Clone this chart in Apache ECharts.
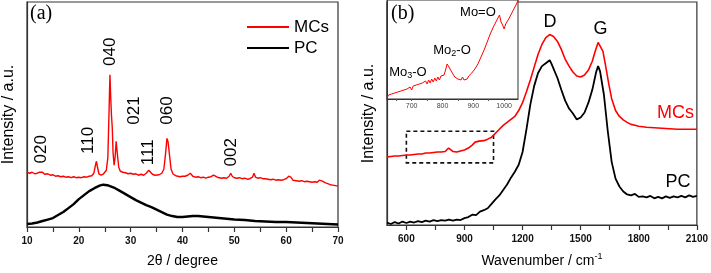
<!DOCTYPE html>
<html><head><meta charset="utf-8">
<script src="https://cdn.jsdelivr.net/npm/echarts@6/dist/echarts.min.js"></script>
<style>html,body{margin:0;padding:0;background:#fff}#c{width:711px;height:273px}</style>
</head><body><div id="c"></div>
<script>
// ---------- Panel (a): XRD ----------
const xrdMCs = [[10,55],[10.5,54],[11,55],[11.5,53.5],[12,54],[12.4,55],[12.7,57],[13,55],[13.4,53],[14,53.5],[14.5,52],[15,52.5],[15.5,51],[16,51.5],[16.5,50.5],[17,51],[17.5,50],[18,50.5],[18.5,49.5],[19,50.5],[19.5,49.5],[20,50],[20.5,49.5],[21,50.5],[21.5,50],[22,51],[22.5,51.5],[22.9,54],[23.2,62],[23.4,66],[23.6,60],[23.9,53],[24.3,52],[24.7,53],[25.0,54],[25.3,57],[25.6,70],[25.8,110],[26.0,153],[26.15,130],[26.3,112],[26.45,100],[26.6,75],[26.8,62],[27.0,70],[27.2,86],[27.35,84],[27.5,70],[27.7,60],[28,56],[28.5,55],[29,54.5],[29.5,53.5],[30,54],[30.5,53],[31,53.5],[31.5,52],[32,53],[32.5,52],[33,54],[33.5,57],[33.8,56],[34.2,53],[34.7,52],[35,53],[35.5,52.5],[36,54],[36.4,58],[36.7,72],[37.0,89],[37.2,86],[37.5,72],[37.8,58],[38.2,53],[38.7,51.5],[39,51],[39.5,50.5],[40,51],[40.5,51],[41,52],[41.5,54],[42,51],[42.5,50],[43,50.5],[43.5,49.5],[44,50],[44.5,49],[45,50],[45.5,50.5],[46,52],[46.3,52.5],[46.7,50],[47,49.5],[47.5,49],[48,49.5],[48.5,49],[49,51],[49.3,54],[49.6,51],[50,49.5],[50.5,49],[51,49.5],[51.5,48.5],[52,49],[52.5,48],[53,48.5],[53.5,50],[53.8,54],[54.1,50],[54.5,49],[55,49.5],[55.5,48.5],[56,48.5],[56.5,48],[57,47.5],[57.5,48],[58,47],[58.5,47.5],[59,47],[59.5,47.5],[60,48.5],[60.5,51],[60.9,50],[61.3,47],[62,46.5],[62.5,46],[63,46.5],[63.5,45.5],[64,46],[64.5,45.5],[65,45],[65.5,45.5],[66,45],[66.4,47],[66.7,49],[67,46],[67.5,44.5],[68,43.5],[68.5,42.5],[69,42],[69.5,41.5],[70,41]];
const xrdPC = [[10,3],[11,3.5],[12,4.5],[13,6],[14,7.5],[15,9],[16,12],[17,15],[18,19],[19,23],[20,28],[21,32],[22,36],[23,39],[24,41.5],[24.7,42.5],[25.5,42],[26,41],[27,39],[28,36],[29,33],[30,30],[31,27],[32,24.5],[33,22],[34,20],[35,17.5],[36,15],[37,12.5],[38,11],[39,10],[40,10],[41,10.5],[42,11],[43,11],[44,10.5],[45,10],[46,9.5],[47,9],[48,8.5],[50,7.5],[52,7],[54,6],[56,5.5],[58,5],[60,5],[62,4.5],[64,4],[66,3.5],[68,3],[70,2.5]];
const xrdPeakLabels = [{name:'020',value:[12.8,78]},{name:'110',value:[21.8,87]},{name:'040',value:[26.0,176]},{name:'021',value:[30.7,117]},{name:'111',value:[33.4,75]},{name:'060',value:[37.0,117]},{name:'002',value:[49.5,75]}];
const xrdTicks = [10,15,20,25,30,35,40,45,50,55,60,65,70];
const xrdTickLabels = [10,20,30,40,50,60,70];

// ---------- Panel (b): Raman ----------
const ramanMCs = [[500,69],[520,69.5],[540,70],[560,70],[580,70.5],[600,71],[620,71],[640,71.5],[660,72],[680,72],[700,73],[720,73],[740,73.5],[760,74],[780,74],[800,74.5],[810,76],[818,78],[826,76.5],[840,74.5],[860,74],[880,75],[900,76],[920,78],[940,81],[955,84],[965,85.5],[975,85],[985,86],[1000,85.5],[1020,87],[1040,89],[1060,93],[1080,97],[1100,101],[1120,104],[1140,107],[1160,110],[1180,116],[1200,124],[1220,135],[1240,147],[1260,160],[1280,173],[1300,183],[1320,190],[1340,193],[1360,191],[1380,186],[1400,178],[1420,168],[1440,161],[1460,155],[1480,151],[1500,150],[1520,152],[1540,157],[1560,166],[1575,176],[1590,185],[1600,184],[1615,176],[1630,160],[1645,143],[1660,128],[1680,116],[1700,110],[1720,106.5],[1740,104],[1760,102],[1780,101],[1800,100],[1840,99],[1880,98.5],[1920,98],[1960,97.5],[2000,97],[2050,97],[2100,97]];
const ramanPC = [[500,2.5],[520,1],[540,3],[560,1.5],[580,3.5],[600,2],[620,3.5],[640,2.5],[660,4],[680,3],[700,4.5],[720,3.5],[740,5],[760,4],[780,5],[800,4.5],[820,5.5],[840,4.5],[860,5.5],[880,5],[900,7],[920,8],[940,10.5],[960,10],[980,13.5],[1000,15],[1020,17],[1040,21.5],[1060,26],[1080,30],[1100,35.5],[1120,41],[1140,48],[1160,54],[1180,61],[1200,74],[1220,97],[1240,122],[1260,141],[1280,154],[1300,161],[1320,164],[1340,167],[1350,163],[1360,162],[1380,149],[1400,137],[1420,126],[1440,118],[1460,113],[1480,107],[1500,109],[1520,114],[1540,124],[1560,137],[1580,155],[1590,161],[1600,156],[1620,132],[1640,95],[1660,64],[1680,47],[1700,39],[1720,34],[1740,31],[1760,30],[1780,31.5],[1800,28.5],[1820,29],[1840,28],[1860,29.5],[1880,27],[1900,28.5],[1920,27],[1940,29],[1960,27.5],[1980,29],[2000,28],[2020,29.5],[2040,28],[2060,30],[2080,28.5],[2100,29.5]];
const ramanLabels = [{name:'D',value:[1341,206],color:'#000'},{name:'G',value:[1603,199],color:'#000'},{name:'MCs',value:[1990,113],color:'#ff0000'},{name:'PC',value:[2003,44],color:'#000'}];
const ramanZoomBox = [[600,95],[1050,63]];
const ramanTicks = [600,750,900,1050,1200,1350,1500,1650,1800,1950,2100];
const ramanTickLabels = [600,900,1200,1500,1800,2100];

// ---------- Inset ----------
const insetMCs = [[620,1],[625,4],[630,2],[635,5],[640,3],[645,6],[650,4],[655,7],[660,5],[665,8],[670,6],[675,9],[680,7],[685,10],[690,8],[695,12],[700,9],[705,13],[710,11],[715,14],[720,12],[725,15],[730,13],[735,16],[740,14],[745,18],[750,15],[755,19],[760,16],[765,20],[770,17],[775,21],[780,18],[785,22],[790,19],[795,23],[800,21],[805,24],[810,29],[815,35],[818,37],[821,32],[825,34],[830,27],[835,26],[840,22],[845,24],[850,20],[855,22],[860,19],[865,22],[870,19],[875,21],[880,20],[885,23],[890,22],[895,26],[900,25],[905,30],[910,30],[915,35],[920,36],[925,42],[930,43],[935,49],[940,50],[945,57],[950,58],[955,65],[960,66],[965,72],[970,72],[975,78],[980,78],[985,84],[990,77],[995,74],[1000,70],[1005,75],[1010,74],[1015,80],[1020,81],[1025,86],[1030,87],[1035,92],[1040,95],[1045,99]];
const insetLabels = [{name:'Mo=O',value:[915,87]},{name:'Mo{s|2}-O',value:[831,49]},{name:'Mo{s|3}-O',value:[688,27]}];
const insetTickLabels = [700,800,900,1000];
const insetTicks = [650,700,750,800,850,900,950,1000];

const SANS = 'Liberation Sans, Arial, sans-serif';
const SERIF = 'Liberation Serif, Times New Roman, serif';
const AX = '#333';
const plain = v => String(v);

function mainX(gi, min, max, ticks, labels, name) {
  return {
    type:'value', gridIndex:gi, min:min, max:max,
    name:name, nameLocation:'middle', nameGap:27,
    nameTextStyle:{fontFamily:SANS, fontSize:14, color:'#000',
      rich:{sup:{fontFamily:SANS, fontSize:9, color:'#000', padding:[0,0,9,0]}}},
    axisLine:{show:true, onZero:false, lineStyle:{color:AX, width:1.2}},
    axisTick:{show:true, customValues:ticks, length:5, lineStyle:{color:AX, width:1.2}},
    axisLabel:{customValues:labels, formatter:plain, margin:9, fontFamily:SANS, fontSize:10, fontWeight:'bold', color:'#111'},
    splitLine:{show:false}
  };
}
function mainY(gi) {
  return {
    type:'value', gridIndex:gi, min:0, max:226,
    name:'Intensity / a.u.', nameLocation:'middle', nameGap:10,
    nameTextStyle:{fontFamily:SANS, fontSize:16, color:'#000'},
    axisLine:{show:true, lineStyle:{color:AX, width:1.2}},
    axisTick:{show:false}, axisLabel:{show:false}, splitLine:{show:false}
  };
}
function labelSeries(xi, yi, data, size, rotate, rich) {
  return {
    type:'scatter', xAxisIndex:xi, yAxisIndex:yi, symbolSize:0, silent:true, z:5,
    itemStyle:{color:'#000', opacity:1},
    data:data.map(d => ({name:d.name, value:d.value,
      label:{color:d.color || '#000'}})),
    label:{show:true, position:'inside', formatter:p => p.name, rotate:rotate,
      fontFamily:SANS, fontSize:size, color:'#000', textBorderWidth:0, opacity:1, rich:rich || {}},
    emphasis:{disabled:true}
  };
}

const chart = echarts.init(document.getElementById('c'), null, {renderer:'canvas'});
chart.setOption({
  animation:false,
  backgroundColor:'#fff',
  grid:[
    {left:27, top:2, width:311, height:226, show:true, borderColor:AX, borderWidth:1.2, backgroundColor:'transparent'},
    {left:387, top:2, width:312, height:226, show:true, borderColor:AX, borderWidth:1.2, backgroundColor:'transparent'},
    {left:387, top:0, width:131, height:99, show:true, borderColor:AX, borderWidth:1, backgroundColor:'#fff', z:3}
  ],
  legend:{data:['MCs','PC'], orient:'vertical', left:242, top:13, icon:'rect', itemWidth:42, itemHeight:2, itemGap:3,
    textStyle:{fontFamily:SANS, fontSize:17, color:'#000', lineHeight:18}},
  xAxis:[
    mainX(0, 10, 70, xrdTicks, xrdTickLabels, '2θ / degree'),
    mainX(1, 500, 2100, ramanTicks, ramanTickLabels, 'Wavenumber / cm{sup|-1}'),
    {type:'value', gridIndex:2, min:620, max:1045, z:3,
      axisLine:{show:true, onZero:false, lineStyle:{color:AX, width:1}},
      axisTick:{show:true, customValues:insetTicks, length:2, lineStyle:{color:'#555'}},
      axisLabel:{customValues:insetTickLabels, formatter:plain, margin:4, fontFamily:SANS, fontSize:7, color:'#444'},
      splitLine:{show:false}}
  ],
  yAxis:[
    mainY(0), mainY(1),
    {type:'value', gridIndex:2, min:0, max:99, z:3, axisLine:{show:true, lineStyle:{color:AX, width:1}},
      axisTick:{show:false}, axisLabel:{show:false}, splitLine:{show:false}}
  ],
  series:[
    {name:'MCs', type:'line', xAxisIndex:0, yAxisIndex:0, data:xrdMCs, symbol:'none', color:'#ff0000', lineStyle:{width:1.4}},
    {name:'PC', type:'line', xAxisIndex:0, yAxisIndex:0, data:xrdPC, symbol:'none', color:'#000', lineStyle:{width:2.4}},
    labelSeries(0, 0, xrdPeakLabels, 17, 90),
    {name:'MCs', type:'line', xAxisIndex:1, yAxisIndex:1, data:ramanMCs, symbol:'none', color:'#ff0000', lineStyle:{width:1.6},
      markArea:{silent:true, itemStyle:{color:'transparent', borderColor:'#111', borderWidth:1.6, borderType:[4,3]},
        data:[[{coord:ramanZoomBox[0]},{coord:ramanZoomBox[1]}]]}},
    {name:'PC', type:'line', xAxisIndex:1, yAxisIndex:1, data:ramanPC, symbol:'none', color:'#000', lineStyle:{width:1.8}},
    labelSeries(1, 1, ramanLabels, 18, 0),
    {name:'inset', type:'line', xAxisIndex:2, yAxisIndex:2, data:insetMCs, symbol:'none', color:'#ff0000', lineStyle:{width:1}, z:4},
    labelSeries(2, 2, insetLabels, 13, 0, {s:{fontFamily:SANS, fontSize:9, color:'#000', padding:[7,0,0,0]}})
  ],
  graphic:[
    {type:'text', left:30, top:4, z:10, style:{text:'(a)', font:'20px ' + SERIF, fill:'#000'}},
    {type:'text', left:391, top:4, z:10, style:{text:'(b)', font:'20px ' + SERIF, fill:'#000'}}
  ]
});
</script></body></html>
